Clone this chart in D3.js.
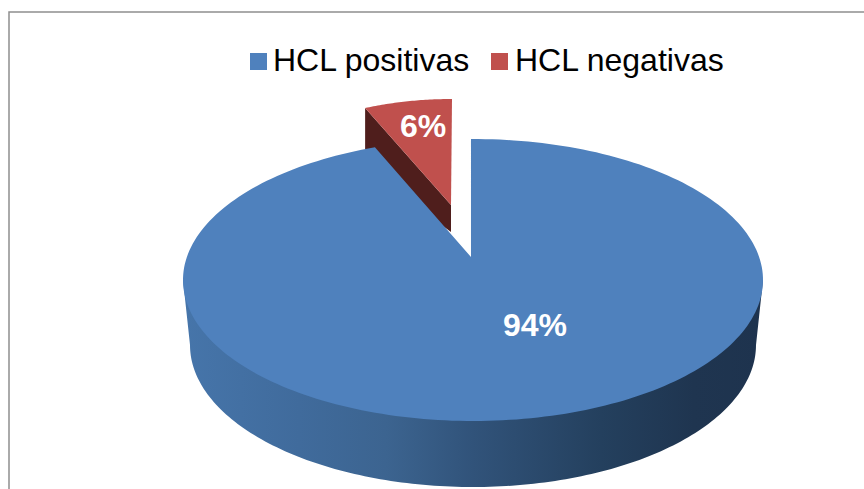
<!DOCTYPE html>
<html><head><meta charset="utf-8">
<script src="https://cdn.jsdelivr.net/npm/d3@7"></script>
<style>html,body{margin:0;background:#fff}svg{display:block}text{font-family:"Liberation Sans",Arial,sans-serif}</style>
</head><body><svg id="c" width="864" height="489"></svg>
<script>
const categories = ["HCL positivas", "HCL negativas"];
const values = [94, 6];
const labels = ["94%", "6%"];
const colors = ["#4f81bd", "#c0504d"];
const svg = d3.select("#c");
const W = 864, H = 489;

// frame
svg.append("path").attr("d", d3.line()([[W, 12], [9, 12], [9, H]]))
  .attr("fill", "none").attr("stroke", "#8f8f8f").attr("stroke-width", 1.5);

const defs = svg.append("defs");
const grad = defs.append("linearGradient").attr("id", "side");
[[0, "#4675aa"], [0.2, "#406b9c"], [0.35, "#3c6490"], [0.5, "#31537a"], [0.72, "#24405e"], [0.88, "#1f3550"], [1, "#1e334e"]]
  .forEach(([o, c]) => grad.append("stop").attr("offset", o).attr("stop-color", c));

const arcs = d3.pie().sort(null).value(d => d)(values);

// Perspective-flattened pie: geometry of the tilted disc
const disc = { cx: 473, cy: 280, rx: 290, ry: 141, apex: [471, 257] };
const base = { cx: 473, cy: 345, rx: 283, ry: 142 };
const red = { cx: 452, cy: 228, rx: 236, ry: 129, apex: [451, 205], depth: 27 };

const onEll = (e, t) => [e.cx + e.rx * Math.sin(t), e.cy - e.ry * Math.cos(t)];
const samples = (a0, a1, n = 160) => d3.range(n + 1).map(i => a0 + (a1 - a0) * i / n);
const line = d3.line();

// blue wedge: the angle is slightly widened by the perspective
const blueStart = arcs[0].startAngle - 0.007;
const blueEnd = arcs[0].endAngle + 0.032;
const blueRim = samples(blueStart, blueEnd, 240).map(t => onEll(disc, t));

// side wall of blue slice (silhouette between top disc and base)
const baseRim = samples(Math.PI * 0.5, Math.PI * 1.5).map(t => onEll(base, t));
svg.append("path")
  .attr("d", line([onEll(disc, Math.PI * 0.5), ...baseRim, onEll(disc, Math.PI * 1.5)]) + "Z")
  .attr("fill", "url(#side)");

// exploded red slice: inner wall, then top
const a0 = arcs[1].startAngle - 2 * Math.PI, a1 = arcs[1].endAngle - 2 * Math.PI;
const redRim = samples(a0, a1, 40).map(t => onEll(red, t));
const corner = redRim[0];
svg.append("path")
  .attr("d", line([corner, red.apex, [red.apex[0], red.apex[1] + red.depth], [corner[0], corner[1] + 60]]) + "Z")
  .attr("fill", "#4f1e1c");
svg.append("path")
  .attr("d", line([red.apex, ...redRim]) + "Z")
  .attr("fill", colors[1]);

// blue top
svg.append("path")
  .attr("d", line([disc.apex, ...blueRim]) + "Z")
  .attr("fill", colors[0]);

// data labels
const labelPos = [[535, 336], [423, 137]];
svg.selectAll("text.lab").data(labels).join("text").attr("class", "lab")
  .attr("x", (d, i) => labelPos[i][0]).attr("y", (d, i) => labelPos[i][1])
  .attr("text-anchor", "middle").attr("font-weight", "bold").attr("font-size", 32).attr("fill", "#fff")
  .text(d => d);

// legend
const lg = [[250, 273], [491, 515]];
const g = svg.selectAll("g.lg").data(categories).join("g").attr("class", "lg");
g.append("rect").attr("x", (d, i) => lg[i][0]).attr("y", 53).attr("width", 17).attr("height", 17)
  .attr("fill", (d, i) => colors[i]);
g.append("text").attr("x", (d, i) => lg[i][1]).attr("y", 71).attr("font-size", 32).attr("fill", "#000")
  .text(d => d);
</script></body></html>
